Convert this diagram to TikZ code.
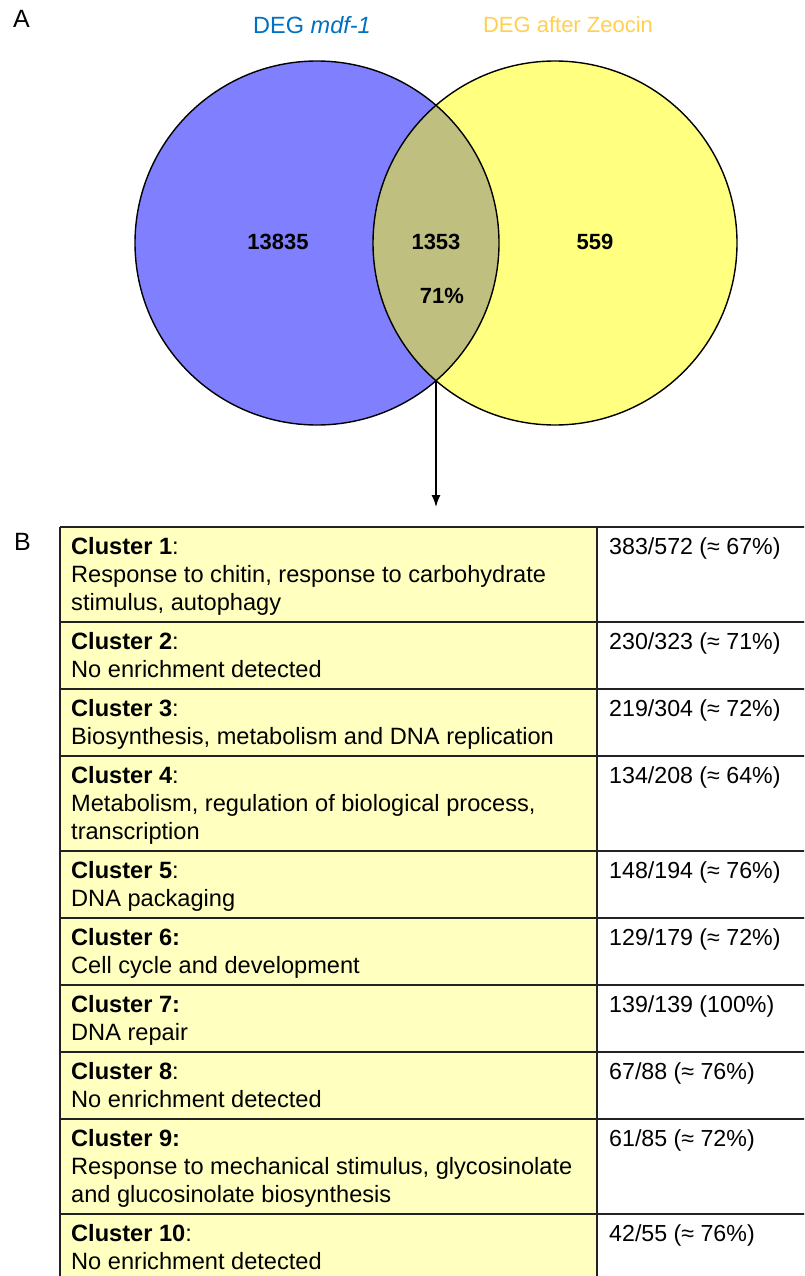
\documentclass[tikz,border=0pt]{standalone}
\usepackage{fontspec}
\setmainfont{Liberation Sans}
\usetikzlibrary{arrows.meta}
\definecolor{venblue}{HTML}{8080FF}
\definecolor{venyellow}{HTML}{FFFF80}
\definecolor{venlens}{HTML}{BFBF80}
\definecolor{titleblue}{HTML}{0070C0}
\definecolor{titlegold}{HTML}{FFD050}
\definecolor{cellyellow}{HTML}{FFFFC0}
\definecolor{gridline}{HTML}{222222}
\tikzset{
  panellabel/.style={anchor=north west, inner sep=0, font=\fontsize{25}{30}\selectfont},
  venntitle/.style={inner sep=0, font=\fontsize{22}{26}\selectfont},
  vnum/.style={inner sep=0, font=\fontsize{22}{26}\selectfont\bfseries},
  vline/.style={draw=black, line width=1.4pt},
  arr/.style={line width=1.4pt, -{Latex[length=12pt,width=9pt]}},
  celltext/.style={anchor=north west, inner sep=0, align=left, font=\fontsize{23.6}{28}\selectfont},
  pcttext/.style={anchor=north west, inner sep=0, font=\fontsize{23.2}{28}\selectfont},
  tline/.style={draw=gridline, line width=1.6pt},
}
\newcommand\clrow[5]{%
  \fill[cellyellow] (60,#1) rectangle (597,#2);
  \node[celltext] (c#3) at (71,{#1+10}) {#4};
  \node[pcttext] (p#3) at (609,{#1+10.5}) {#5};
}
\begin{document}
\begin{tikzpicture}[x=1pt,y=-1pt]
\useasboundingbox (0,0) rectangle (804,1276);
\clip (0,0) rectangle (804,1276);
\fill[white] (0,0) rectangle (804,1276);

% panel A
\node[panellabel] (labA) at (13,10) {A};
\node[venntitle, text=titleblue, font=\fontsize{23.5}{28}\selectfont] (tblue) at (312,25) {DEG \textit{mdf-1}};
\node[venntitle, text=titlegold] (tgold) at (568,25) {DEG after Zeocin};

\fill[venblue] (317,243) circle[radius=182];
\fill[venyellow] (555,243) circle[radius=182];
\begin{scope}
  \clip (317,243) circle[radius=182];
  \fill[venlens] (555,243) circle[radius=182];
\end{scope}
\draw[vline] (317,243) circle[radius=182];
\draw[vline] (555,243) circle[radius=182];

\node[vnum] (nleft) at (278,242) {13835};
\node[vnum] (nmid) at (436,242) {1353};
\node[vnum] (nright) at (595,242) {559};
\node[vnum] (npct) at (442,296) {71\%};

\coordinate (lensbot) at (436,381);
\coordinate (arrtip) at (436,507);
\draw[arr] (lensbot) -- (arrtip);

% panel B
\node[panellabel] (labB) at (14,533) {B};

\clrow{527}{622}{1}{\textbf{Cluster 1}:\\Response to chitin, response to carbohydrate\\stimulus, autophagy}{383/572 (≈ 67\%)}
\clrow{622}{689}{2}{\textbf{Cluster 2}:\\No enrichment detected}{230/323 (≈ 71\%)}
\clrow{689}{756}{3}{\textbf{Cluster 3}:\\Biosynthesis, metabolism and DNA replication}{219/304 (≈ 72\%)}
\clrow{756}{851}{4}{\textbf{Cluster 4}:\\Metabolism, regulation of biological process,\\transcription}{134/208 (≈ 64\%)}
\clrow{851}{918}{5}{\textbf{Cluster 5}:\\DNA packaging}{148/194 (≈ 76\%)}
\clrow{918}{985}{6}{\textbf{Cluster 6:}\\Cell cycle and development}{129/179 (≈ 72\%)}
\clrow{985}{1052}{7}{\textbf{Cluster 7:}\\DNA repair}{139/139 (100\%)}
\clrow{1052}{1119}{8}{\textbf{Cluster 8}:\\No enrichment detected}{67/88 (≈ 76\%)}
\clrow{1119}{1214}{9}{\textbf{Cluster 9:}\\Response to mechanical stimulus, glycosinolate\\and glucosinolate biosynthesis}{61/85 (≈ 72\%)}
\clrow{1214}{1290}{10}{\textbf{Cluster 10}:\\No enrichment detected}{42/55 (≈ 76\%)}

\foreach \yy in {527,622,689,756,851,918,985,1052,1119,1214}
  \draw[tline] (60,\yy) -- (820,\yy);
\draw[tline] (60,527) -- (60,1290);
\draw[tline] (597,527) -- (597,1290);
\end{tikzpicture}
\end{document}
